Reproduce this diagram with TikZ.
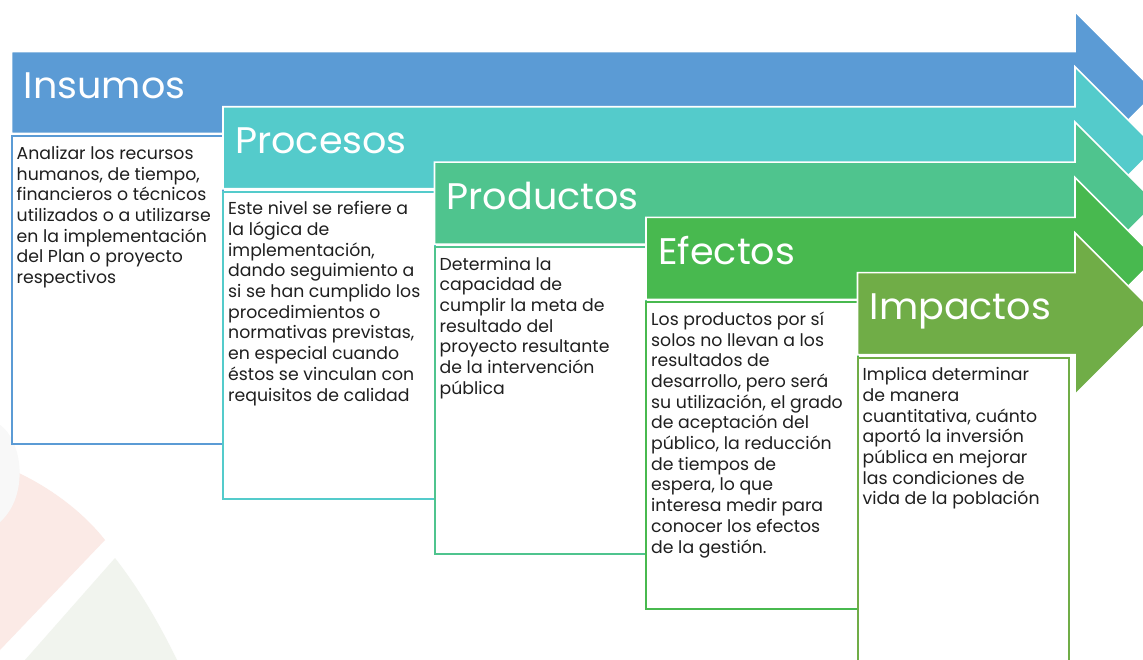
\documentclass[tikz,border=0pt]{standalone}
\usepackage{fontspec}
\setmainfont{Poppins}
\newfontfamily\bodyfont{Poppins}
\newfontfamily\headfont[FakeStretch=1.03]{Poppins}
\definecolor{cA}{HTML}{5B9BD5}
\definecolor{cB}{HTML}{54CBCB}
\definecolor{cC}{HTML}{4FC48E}
\definecolor{cD}{HTML}{48B94F}
\definecolor{cE}{HTML}{70AD47}
\definecolor{wmRed}{HTML}{FBEAE6}
\definecolor{wmGreen}{HTML}{F1F4EE}
\definecolor{wmGray}{HTML}{F8F8F8}
\newcommand\mkstage[4]{%
  \pgfmathsetmacro\L{11.5+211.5*#1}%
  \pgfmathsetmacro\T{51.5+55.3*#1}%
  \path[arrowshape, fill=#2] (\L,\T) -- (1075,\T) -- (1075,\T-40) -- (1156,\T+41)
     -- (1075,\T+122) -- (1075,\T+82) -- (\L,\T+82) -- cycle;
  \draw[boxshape, draw=#2] (\L,\T+85) rectangle (\L+211.5,\T+392);
  \node[titletext] (t#1) at (\L+12,\T+47) {#3};
  \node[bodytext] (b#1) at (\L+5,\T+108)
     {\parbox[t]{225pt}{\raggedright\bodyfont\fontsize{17.3}{20.7}\selectfont #4}};
}
\begin{document}
\begin{tikzpicture}[x=1pt,y=-1pt,
  arrowshape/.style={line width=1.6pt, draw=white, line join=miter},
  boxshape/.style={line width=2pt, fill=white},
  titletext/.style={anchor=base west, inner sep=0pt, text=white,
     font=\headfont\fontsize{37}{40}\selectfont},
  bodytext/.style={anchor=base west, inner sep=0pt, text=black!88}
]
\useasboundingbox (0,0) rectangle (1143,660);
\clip (0,0) rectangle (1143,660);
\fill[white] (0,0) rectangle (1143,660);
% faint watermark
\fill[wmRed] (0,465) .. controls (40,480) and (80,508) .. (105,540) -- (0,650) -- cycle;
\fill[wmGray] (0,425) .. controls (22,440) and (30,495) .. (0,522) -- cycle;
\fill[wmGreen] (115,558) .. controls (140,590) and (160,625) .. (177,660) -- (25,660) -- cycle;
% stages
\mkstage{0}{cA}{Insumos}{Analizar los recursos\\humanos, de tiempo,\\financieros o técnicos\\utilizados o a utilizarse\\en la implementación\\del Plan o proyecto\\respectivos}
\mkstage{1}{cB}{Procesos}{Este nivel se refiere a\\la lógica de\\implementación,\\dando seguimiento a\\si se han cumplido los\\procedimientos o\\normativas previstas,\\en especial cuando\\éstos se vinculan con\\requisitos de calidad}
\mkstage{2}{cC}{Productos}{Determina la\\capacidad de\\cumplir la meta de\\resultado del\\proyecto resultante\\de la intervención\\pública}
\mkstage{3}{cD}{Efectos}{Los productos por sí\\solos no llevan a los\\resultados de\\desarrollo, pero será\\su utilización, el grado\\de aceptación del\\público, la reducción\\de tiempos de\\espera, lo que\\interesa medir para\\conocer los efectos\\de la gestión.}
\mkstage{4}{cE}{Impactos}{Implica determinar\\de manera\\cuantitativa, cuánto\\aportó la inversión\\pública en mejorar\\las condiciones de\\vida de la población}
\end{tikzpicture}
\end{document}
